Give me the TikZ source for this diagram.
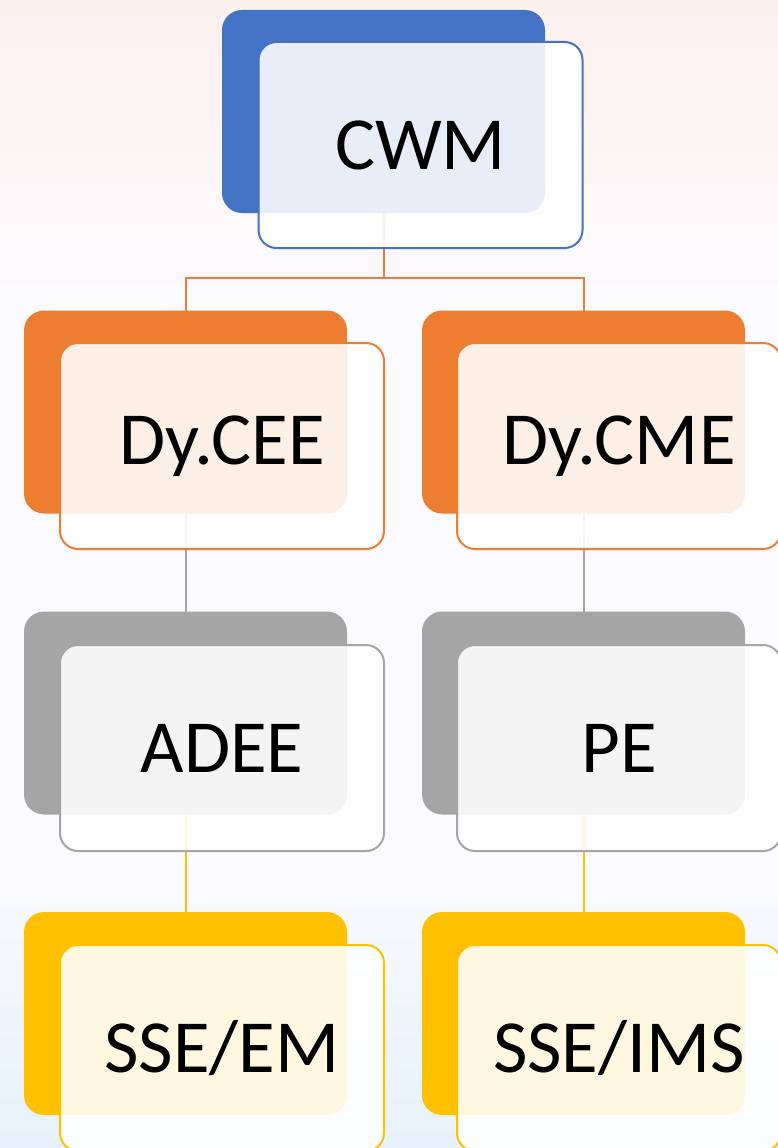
\documentclass[tikz,border=0pt]{standalone}
\usepackage{fontspec}
\setmainfont{Carlito}
\definecolor{cblue}{HTML}{4472C4}
\definecolor{corange}{HTML}{ED7D31}
\definecolor{cgrey}{HTML}{A5A5A5}
\definecolor{cgold}{HTML}{FFC000}
\definecolor{bgtop}{HTML}{FDF1EE}
\definecolor{bgmid}{HTML}{FBFAFE}
\definecolor{bgbot}{HTML}{E6F1FB}
\begin{document}
\begin{tikzpicture}[x=1pt,y=-1pt,
  backbox/.style={rounded corners=20pt, minimum width=323pt, minimum height=203pt, inner sep=0pt, outer sep=0pt, fill=#1},
  frontbox/.style={rounded corners=18pt, minimum width=324pt, minimum height=206pt, inner sep=0pt, outer sep=0pt, draw=#1, line width=2pt, fill=white, fill opacity=0.88, text opacity=1, font=\fontsize{75}{90}\selectfont},
  link/.style={draw=#1, line width=2pt}]
\useasboundingbox (0,0) rectangle (778,1148);
\shade[top color=bgtop, bottom color=bgmid] (0,0) rectangle (778,300);
\fill[bgmid] (0,299) rectangle (778,860);
\shade[top color=bgmid, bottom color=bgbot] (0,859) rectangle (778,1148);
% back boxes
\node[backbox=cblue] (cwmb) at (383.5,111.5) {};
\node[backbox=corange] (ceeb) at (185.5,412) {};
\node[backbox=corange] (cmeb) at (583.5,412) {};
\node[backbox=cgrey] (adeeb) at (185.5,713) {};
\node[backbox=cgrey] (peb) at (583.5,713) {};
\node[backbox=cgold] (sseemb) at (185.5,1013.5) {};
\node[backbox=cgold] (sseimsb) at (583.5,1013.5) {};
% connectors
\draw[link=corange] (cwmb.south) -- ++(0,65) -| (ceeb.north);
\draw[link=corange] (cwmb.south) -- ++(0,65) -| (cmeb.north);
\draw[link=cgrey] (ceeb.south) -- (adeeb.north);
\draw[link=cgrey] (cmeb.south) -- (peb.north);
\draw[link=cgold] (adeeb.south) -- (sseemb.north);
\draw[link=cgold] (peb.south) -- (sseimsb.north);
% front boxes
\node[frontbox=cblue] (cwm) at (420.5,145) {CWM};
\node[frontbox=corange] (cee) at (222,446) {Dy.CEE};
\node[frontbox=corange] (cme) at (619,446) {Dy.CME};
\node[frontbox=cgrey] (adee) at (222,748) {ADEE};
\node[frontbox=cgrey] (pe) at (619,748) {PE};
\node[frontbox=cgold] (sseem) at (222,1048) {SSE/EM};
\node[frontbox=cgold] (sseims) at (619,1048) {SSE/IMS};
\end{tikzpicture}
\end{document}
